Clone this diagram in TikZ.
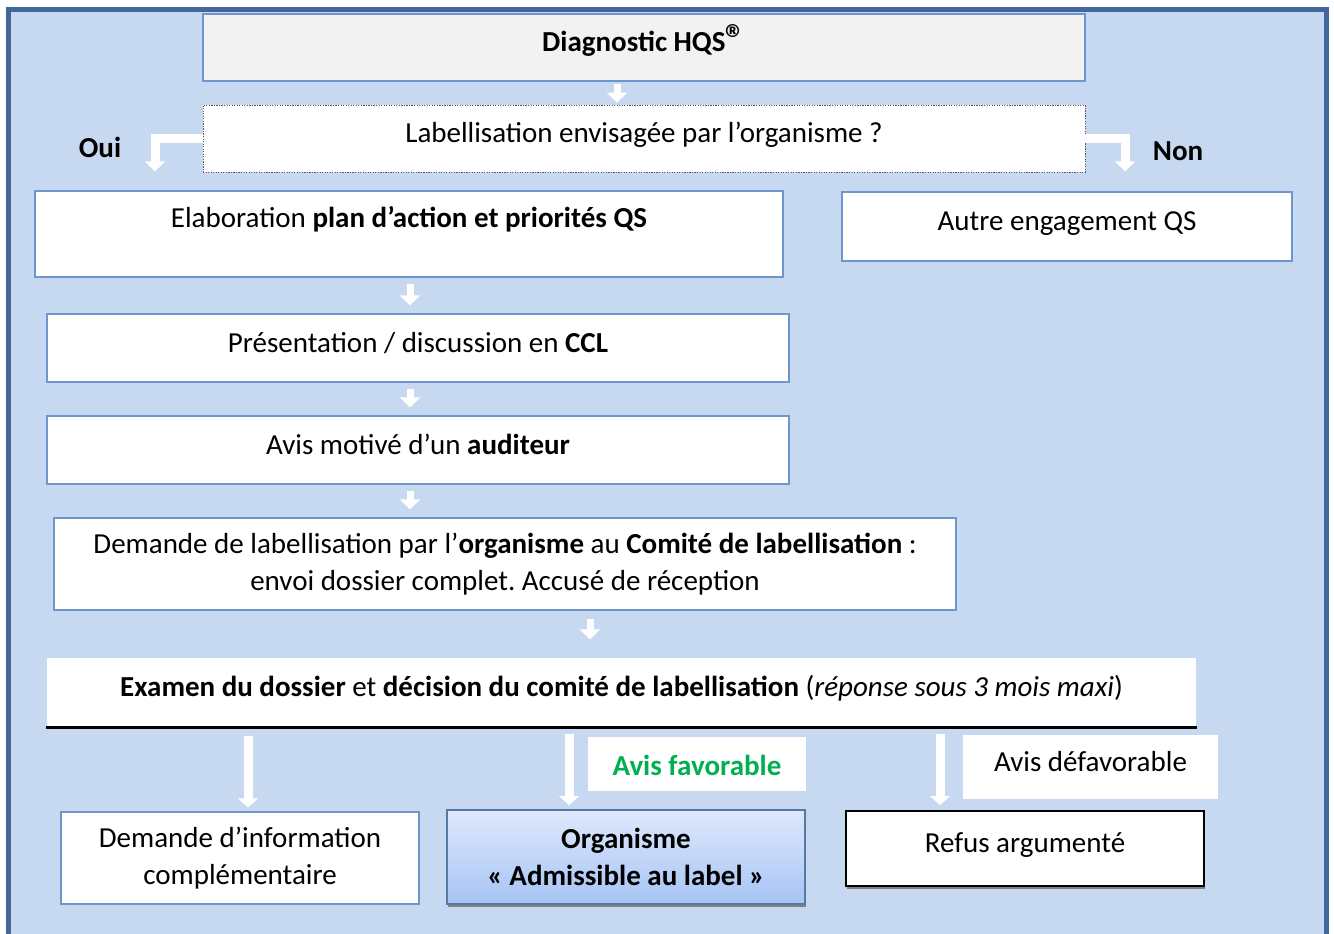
\documentclass[tikz,border=0pt]{standalone}
\usepackage{fontspec}
\setmainfont{Carlito}
\usetikzlibrary{arrows.meta}
\usetikzlibrary{shadows}
\frenchspacing

\definecolor{bgblue}{RGB}{198,217,240}
\definecolor{frameblue}{RGB}{65,103,155}
\definecolor{boxblue}{RGB}{110,150,205}
\definecolor{favgreen}{RGB}{0,176,80}
\definecolor{shadetop}{RGB}{222,232,252}
\definecolor{shadebot}{RGB}{166,196,245}

\tikzset{
  box/.style={draw=boxblue, line width=0.9pt, fill=white, inner sep=0pt, align=center},
  oneline/.style={text height=15pt, text depth=9pt},
  stepdown/.style={draw=white, line width=5.25pt, -{Triangle[length=7.5pt,width=15pt]}},
  longdown/.style={draw=white, line width=6.75pt, -{Triangle[length=6.75pt,width=15pt]}},
  elbow/.style={draw=white, line width=6.75pt, line join=miter, -{Triangle[length=7.5pt,width=15pt]}},
  boxshadow/.style={drop shadow={shadow xshift=0.5pt, shadow yshift=-2.5pt, fill=black!50, opacity=1}}
}

\begin{document}
\begin{tikzpicture}[x=0.75pt,y=0.75pt,yscale=-1,xscale=1,font=\fontsize{21.75}{27.5}\selectfont]
\useasboundingbox (0,0) rectangle (1334,933);

% frame
\draw[frameblue, line width=3.75pt, fill=bgblue] (8,9.5) rectangle (1326,945);

% top boxes
\node[box, oneline, fill=black!5, minimum width=661.5pt, minimum height=50.25pt] (diag) at (644,47.5) {\textbf{Diagnostic HQS\raisebox{-0.1ex}{\fontsize{30}{30}\selectfont ®}}};
\node[box, oneline, draw=black!65, densely dotted, line width=0.6pt, minimum width=661.5pt, minimum height=50.25pt] (quest) at (644,138.5) {Labellisation envisagée par l’organisme ?};

% oui / non
\node[box, text height=15pt, text depth=25pt, minimum width=561pt, minimum height=64.5pt] (plan) at (409,234) {Elaboration \textbf{plan d’action et priorités QS}};
\node[box, oneline, minimum width=337.5pt, minimum height=51.75pt] (autre) at (1067,226.5) {Autre engagement QS};
\node (oui) at (100,147) {\textbf{Oui}};
\node (non) at (1178,151) {\textbf{Non}};

% steps
\node[box, oneline, minimum width=556.5pt, minimum height=51pt] (ccl) at (418,348) {Présentation / discussion en \textbf{CCL}};
\node[box, oneline, minimum width=556.5pt, minimum height=51pt] (audit) at (418,450) {Avis motivé d’un \textbf{auditeur}};
\node[box, minimum width=676.5pt, minimum height=69pt] (demande) at (505,564) {Demande de labellisation par l’\textbf{organisme} au \textbf{Comité de labellisation} :\\envoi dossier complet. Accusé de réception};
\node[box, draw=none, oneline, minimum width=861.75pt, minimum height=51.75pt] (examen) at (621.5,692.5) {\textbf{Examen du dossier} et \textbf{décision du comité de labellisation} (\textit{réponse sous 3 mois maxi})};
\draw[line width=2.25pt] (examen.south west) -- (examen.south east);

% decisions
\node[box, draw=none, text height=20pt, text depth=3pt, minimum width=163.5pt, minimum height=40.5pt, text=favgreen] (fav) at (697,764) {\textbf{Avis favorable}};
\node[box, draw=none, oneline, minimum width=191.25pt, minimum height=48pt] (defav) at (1090.5,767) {Avis défavorable};
\node[box, minimum width=268.5pt, minimum height=69pt] (info) at (240,858) {Demande d’information\\complémentaire};
\node[box, boxshadow, draw=boxblue!80!black, line width=1.5pt, top color=shadetop, bottom color=shadebot, minimum width=268.5pt, minimum height=70.5pt] (admis) at (626,857) {\textbf{Organisme}\\\textbf{« Admissible au label »}};
\node[box, boxshadow, draw=black, line width=1.5pt, oneline, minimum width=268.5pt, minimum height=56.25pt] (refus) at (1025,848.5) {Refus argumenté};

% arrows
\draw[stepdown, shorten <=1.5pt, shorten >=1.5pt] (617,0 |- diag.south) -- (617,0 |- quest.north);
\draw[elbow, shorten >=14.25pt] (quest.west) -| (155,0 |- plan.north);
\draw[elbow, shorten >=15pt] (quest.east) -| (1125,0 |- autre.north);
\foreach \a/\b in {plan/ccl, ccl/audit, audit/demande}
  \draw[stepdown, shorten <=4.75pt, shorten >=6pt] (410,0 |- \a.south) -- (410,0 |- \b.north);
\draw[stepdown, shorten <=6pt, shorten >=13.5pt] (590,0 |- demande.south) -- (590,0 |- examen.north);
\draw[longdown, shorten <=6pt, shorten >=3pt] (248,0 |- examen.south) -- (248,0 |- info.north);
\draw[longdown, shorten <=4.5pt, shorten >=3pt] (569,0 |- examen.south) -- (569,0 |- admis.north);
\draw[longdown, shorten <=4.5pt, shorten >=3.75pt] (940,0 |- examen.south) -- (940,0 |- refus.north);

\end{tikzpicture}
\end{document}
